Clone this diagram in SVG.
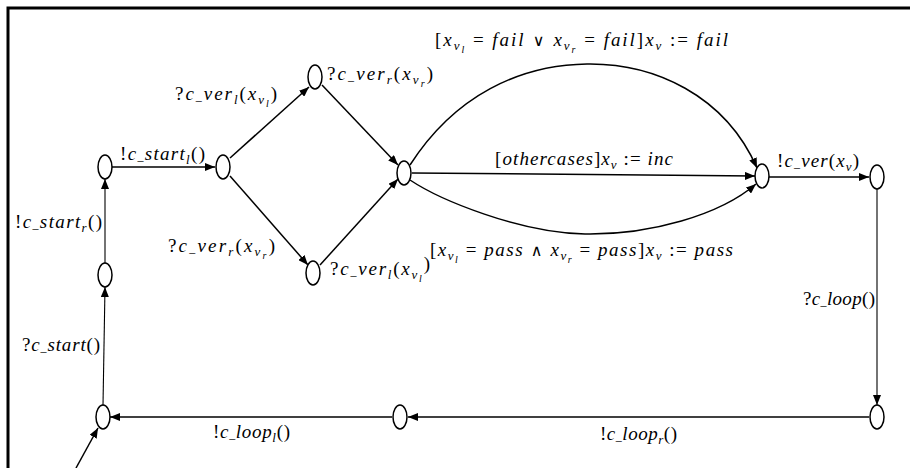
<svg xmlns="http://www.w3.org/2000/svg" width="910" height="468" viewBox="0 0 910 468">
<style>
.t{font-family:"Liberation Serif","Times New Roman",serif;font-size:19px;font-style:italic;fill:#000}
.u{font-style:normal}
.b{font-style:normal;font-size:12px}
.m{font-style:normal;font-family:"DejaVu Serif",serif;font-size:16px}
.s{font-size:13px}
.ss{font-size:10px}
.n{fill:#fff;stroke:#000;stroke-width:1.5}
.e{fill:none;stroke:#000;stroke-width:1.5}
.thin{stroke-width:1.1}
</style>
<defs>
<marker id="ah" viewBox="0 0 10 8" refX="10" refY="4" markerWidth="10" markerHeight="8" orient="auto" markerUnits="userSpaceOnUse">
<path d="M0,0 L10,4 L0,8 z" fill="#000"/>
</marker>
</defs>
<rect width="910" height="468" fill="#fff"/>
<path d="M8 468 V8 H910" fill="none" stroke="#000" stroke-width="3"/>

<g id="connectors">
<path class="e" d="M112 167 H215" marker-end="url(#ah)"/>
<path class="e" d="M230 158 L309 87" marker-end="url(#ah)"/>
<path class="e" d="M230 176 L308 265" marker-end="url(#ah)"/>
<path class="e" d="M322 85 L398 165" marker-end="url(#ah)"/>
<path class="e" d="M320 265 L398 179" marker-end="url(#ah)"/>
<path class="e" d="M412 173 L755 176" marker-end="url(#ah)"/>
<path class="e" d="M410 165 C455 95 520 65 587 64 S725 95 757 168" marker-end="url(#ah)"/>
<path class="e" d="M410 180 C440 200 520 233 585 234 S720 215 756 184" marker-end="url(#ah)"/>
<path class="e" d="M769 177 H869" marker-end="url(#ah)"/>
<path class="e thin" d="M877 189 V405" marker-end="url(#ah)"/>
<path class="e" d="M869 417 H408" marker-end="url(#ah)"/>
<path class="e" d="M392 417 H110" marker-end="url(#ah)"/>
<path class="e thin" d="M103 405 L105 287" marker-end="url(#ah)"/>
<path class="e thin" d="M105 263 V179" marker-end="url(#ah)"/>
<path class="e" d="M76 468 L98 428" marker-end="url(#ah)"/>
</g>

<g id="n0"><ellipse class="n" cx="103" cy="417" rx="7" ry="12"/></g>
<g id="n1"><ellipse class="n" cx="105" cy="275" rx="7" ry="12"/></g>
<g id="n2"><ellipse class="n" cx="105" cy="167" rx="7" ry="12"/></g>
<g id="n3"><ellipse class="n" cx="223" cy="167" rx="7" ry="12"/></g>
<g id="n4"><ellipse class="n" cx="315" cy="77" rx="7" ry="12"/></g>
<g id="n5"><ellipse class="n" cx="313" cy="273" rx="7" ry="12"/></g>
<g id="n6"><ellipse class="n" cx="404" cy="173" rx="7" ry="12"/></g>
<g id="n7"><ellipse class="n" cx="762" cy="176" rx="7" ry="12"/></g>
<g id="n8"><ellipse class="n" cx="877" cy="177" rx="7" ry="12"/></g>
<g id="n9"><ellipse class="n" cx="877" cy="417" rx="7" ry="12"/></g>
<g id="n10"><ellipse class="n" cx="400" cy="417" rx="7" ry="12"/></g>

<g id="labels">
<text class="t" x="120" y="160" textLength="85" lengthAdjust="spacing"><tspan class="u">!</tspan>c<tspan class="b">_</tspan>start<tspan class="s" dy="4">l</tspan><tspan class="u" dy="-4">()</tspan></text>
<text class="t" x="175" y="100" textLength="102" lengthAdjust="spacing"><tspan class="u">?</tspan>c<tspan class="b">_</tspan>ver<tspan class="s" dy="4">l</tspan><tspan class="u" dy="-4">(</tspan>x<tspan class="s" dy="4">v</tspan><tspan class="ss" dy="3">l</tspan><tspan class="u" dy="-7">)</tspan></text>
<text class="t" x="327" y="80" textLength="106" lengthAdjust="spacing"><tspan class="u">?</tspan>c<tspan class="b">_</tspan>ver<tspan class="s" dy="4">r</tspan><tspan class="u" dy="-4">(</tspan>x<tspan class="s" dy="4">v</tspan><tspan class="ss" dy="3">r</tspan><tspan class="u" dy="-7">)</tspan></text>
<text class="t" x="168" y="252" textLength="107" lengthAdjust="spacing"><tspan class="u">?</tspan>c<tspan class="b">_</tspan>ver<tspan class="s" dy="4">r</tspan><tspan class="u" dy="-4">(</tspan>x<tspan class="s" dy="4">v</tspan><tspan class="ss" dy="3">r</tspan><tspan class="u" dy="-7">)</tspan></text>
<text class="t" x="330" y="275" textLength="100" lengthAdjust="spacing"><tspan class="u">?</tspan>c<tspan class="b">_</tspan>ver<tspan class="s" dy="4">l</tspan><tspan class="u" dy="-4">(</tspan>x<tspan class="s" dy="4">v</tspan><tspan class="ss" dy="3">l</tspan><tspan class="u" dy="-12">)</tspan></text>
<text class="t" x="435" y="46" textLength="293" lengthAdjust="spacing"><tspan class="u">[</tspan>x<tspan class="s" dy="4">v</tspan><tspan class="ss" dy="3">l</tspan><tspan class="u" dy="-7"> = </tspan>fail<tspan class="m"> ∨ </tspan>x<tspan class="s" dy="4">v</tspan><tspan class="ss" dy="3">r</tspan><tspan class="u" dy="-7"> = </tspan>fail<tspan class="u">]</tspan>x<tspan class="s" dy="4">v</tspan><tspan class="u" dy="-4"> := </tspan>fail</text>
<text class="t" x="430" y="256" textLength="303" lengthAdjust="spacing"><tspan class="u">[</tspan>x<tspan class="s" dy="4">v</tspan><tspan class="ss" dy="3">l</tspan><tspan class="u" dy="-7"> = </tspan>pass<tspan class="m"> ∧ </tspan>x<tspan class="s" dy="4">v</tspan><tspan class="ss" dy="3">r</tspan><tspan class="u" dy="-7"> = </tspan>pass<tspan class="u">]</tspan>x<tspan class="s" dy="4">v</tspan><tspan class="u" dy="-4"> := </tspan>pass</text>
<text class="t" x="495" y="165" textLength="178" lengthAdjust="spacing"><tspan class="u">[</tspan>othercases<tspan class="u">]</tspan>x<tspan class="s" dy="4">v</tspan><tspan class="u" dy="-4"> := </tspan>inc</text>
<text class="t" x="777" y="167" textLength="82" lengthAdjust="spacing"><tspan class="u">!</tspan>c<tspan class="b">_</tspan>ver<tspan class="u">(</tspan>x<tspan class="s" dy="4">v</tspan><tspan class="u" dy="-4">)</tspan></text>
<text class="t" x="803" y="305" textLength="72" lengthAdjust="spacing"><tspan class="u">?</tspan>c<tspan class="b">_</tspan>loop<tspan class="u">()</tspan></text>
<text class="t" x="600" y="440" textLength="77" lengthAdjust="spacing"><tspan class="u">!</tspan>c<tspan class="b">_</tspan>loop<tspan class="s" dy="4">r</tspan><tspan class="u" dy="-4">()</tspan></text>
<text class="t" x="213" y="438" textLength="77" lengthAdjust="spacing"><tspan class="u">!</tspan>c<tspan class="b">_</tspan>loop<tspan class="s" dy="4">l</tspan><tspan class="u" dy="-4">()</tspan></text>
<text class="t" x="22" y="351" textLength="78" lengthAdjust="spacing"><tspan class="u">?</tspan>c<tspan class="b">_</tspan>start<tspan class="u">()</tspan></text>
<text class="t" x="15" y="228" textLength="87" lengthAdjust="spacing"><tspan class="u">!</tspan>c<tspan class="b">_</tspan>start<tspan class="s" dy="4">r</tspan><tspan class="u" dy="-4">()</tspan></text>
</g>
</svg>
